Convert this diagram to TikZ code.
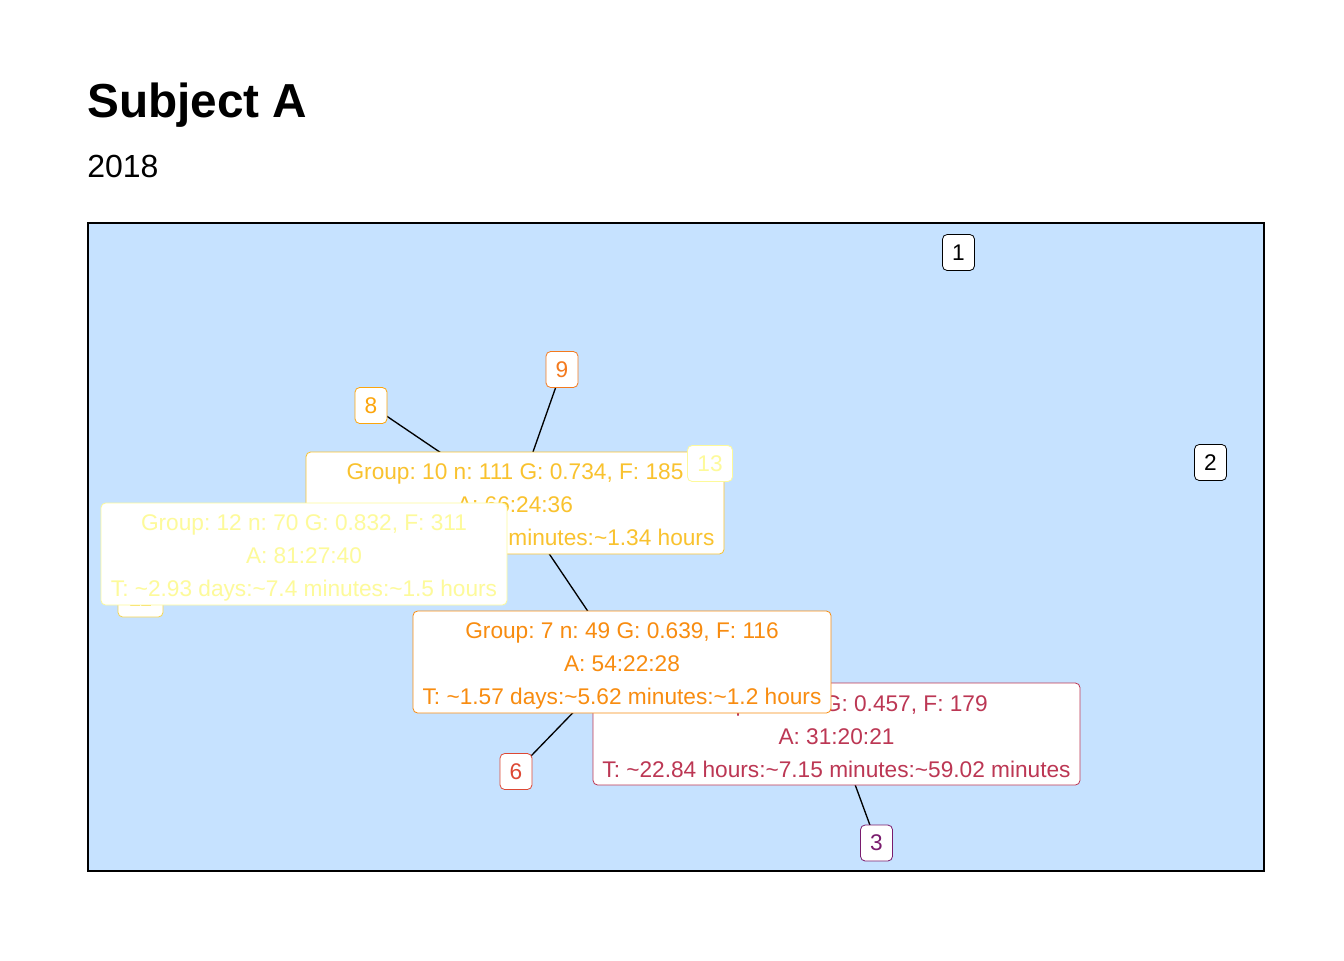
\documentclass[tikz,border=0pt]{standalone}
\usepackage{fontspec}
\setmainfont{Liberation Sans}
\frenchspacing
\definecolor{panel}{RGB}{198,226,255}
\definecolor{cthree}{RGB}{122,28,110}
\definecolor{cfour}{RGB}{188,55,84}
\definecolor{csix}{RGB}{221,72,52}
\definecolor{cseven}{RGB}{248,140,16}
\definecolor{ceight}{RGB}{252,165,12}
\definecolor{cnine}{RGB}{244,122,30}
\definecolor{cten}{RGB}{249,194,46}
\definecolor{celeven}{RGB}{246,214,80}
\definecolor{ctwelve}{RGB}{253,250,154}
\newcommand{\tl}{\textasciitilde}
\newcommand{\topr}{\rule{0pt}{18pt}}
\newcommand{\botr}{\rule[-2.8pt]{0pt}{0pt}}
\tikzset{
  lbl/.style={draw=#1, text=#1, fill=white, rounded corners=3.5pt, line width=0.6pt,
    font=\fontsize{17}{24.75}\selectfont, align=center, inner sep=0pt},
  small/.style={lbl=#1, minimum width=24pt, minimum height=27pt},
  smallw/.style={lbl=#1, minimum width=33.75pt, minimum height=27pt},
  big/.style={lbl=#1, minimum height=76.5pt},
  edge/.style={draw=black, line width=1pt}
}
\begin{document}
\begin{tikzpicture}[x=0.75pt, y=-0.75pt]
\useasboundingbox (0,0) rectangle (1344,960);
\fill[white] (0,0) rectangle (1344,960);
\node[anchor=base west, font=\fontsize{35.8}{40}\selectfont\bfseries, inner sep=0pt] (title) at (87,117) {Subject A};
\node[anchor=base west, font=\fontsize{24}{28}\selectfont, inner sep=0pt] (sub) at (87,177) {2018};
\draw[fill=panel, draw=black, line width=0.8pt] (88,223) rectangle (1264,871);
% node centres (edges drawn first, under boxes)
\coordinate (c10) at (515,503);
\coordinate (c7) at (622,662);
\coordinate (c4) at (836.5,734);
\coordinate (c8) at (371,405.5);
\coordinate (c9) at (562,369.5);
\coordinate (c6) at (516,771.5);
\coordinate (c3) at (876.5,843);
\draw[edge] (c8) -- (c10);
\draw[edge] (c9) -- (c10);
\draw[edge] (c10) -- (c7);
\draw[edge] (c6) -- (c7);
\draw[edge] (c3) -- (c4);
% labels
\node[small=black] (n1) at (958.5,252.5) {1};
\node[small=black] (n2) at (1210.5,462.5) {2};
\node[small=cthree] (n3) at (c3) {3};
\node[small=csix] (n6) at (c6) {6};
\node[small=ceight] (n8) at (c8) {8};
\node[small=cnine] (n9) at (c9) {9};
\node[smallw=celeven] (n11) at (140.5,599) {11};
\node[big=cten, minimum width=313.5pt] (g10) at (c10) {\topr Group: 10 n: 111 G: 0.734, F: 185\\A: 66:24:36\\T: \tl2.1 days:\tl5.69 minutes:\tl1.34 hours\botr};
\node[smallw=ctwelve] (n13) at (710,463.5) {13};
\node[big=ctwelve, minimum width=304.5pt] (g12) at (304,554) {\topr Group: 12 n: 70 G: 0.832, F: 311\\A: 81:27:40\\T: \tl2.93 days:\tl7.4 minutes:\tl1.5 hours\botr};
\node[big=cfour, minimum width=365.25pt] (g4) at (c4) {\topr Group: 4 n: 9 G: 0.457, F: 179\\A: 31:20:21\\T: \tl22.84 hours:\tl7.15 minutes:\tl59.02 minutes\botr};
\node[big=cseven, minimum width=313.5pt] (g7) at (c7) {\topr Group: 7 n: 49 G: 0.639, F: 116\\A: 54:22:28\\T: \tl1.57 days:\tl5.62 minutes:\tl1.2 hours\botr};
\end{tikzpicture}
\end{document}
